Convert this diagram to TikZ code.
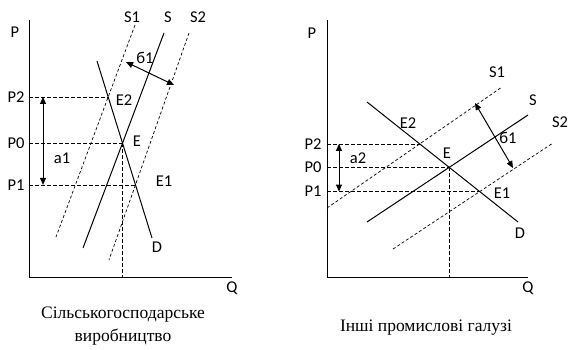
\documentclass[tikz,border=0pt]{standalone}
\usepackage{fontspec}
\setmainfont{Liberation Serif}
\newfontfamily\lblfont{Carlito}
\usetikzlibrary{calc,arrows.meta}

\begin{document}
\begin{tikzpicture}[x=1pt, y=-1pt, >={Triangle[length=7pt,width=6pt]},
  curve/.style={line width=1pt},
  shifted/.style={line width=0.7pt, dash pattern=on 3pt off 2.2pt},
  guide/.style={line width=0.7pt, dash pattern=on 3.5pt off 2.5pt},
  shiftarrow/.style={<->, line width=1pt},
  lbl/.style={font=\lblfont\fontsize{16.5}{18}\selectfont, inner sep=0pt},
  caption/.style={font=\fontsize{17.5}{23}\selectfont, inner sep=0pt, align=center}]
  \useasboundingbox (0,0) rectangle (570,349);

  % Left panel: agriculture
  \coordinate (lO) at (29,277);
  \coordinate (lTop) at (29,20);
  \coordinate (lEnd) at (232,277);
  \draw[curve] (lTop) -- (lO) -- (lEnd);
  \node[lbl] (lP) at (15,32) {P};
  \node[lbl] (lQ) at (232,288) {Q};

  \coordinate (lS1a) at (135,25);  \coordinate (lS1b) at (56,237);
  \coordinate (lSa)  at (164,33);  \coordinate (lSb)  at (83,248);
  \coordinate (lS2a) at (189,33);  \coordinate (lS2b) at (109,260);
  \coordinate (lDa)  at (97,61);   \coordinate (lDb)  at (152,238);
  \draw[shifted] (lS1a) -- (lS1b);
  \draw[curve] (lSa) -- (lSb);
  \draw[shifted] (lS2a) -- (lS2b);
  \draw[curve] (lDa) -- (lDb);

  \coordinate (lE)  at (intersection of lSa--lSb and lDa--lDb);
  \coordinate (lE2) at (intersection of lS1a--lS1b and lDa--lDb);
  \coordinate (lE1) at (intersection of lS2a--lS2b and lDa--lDb);

  % price levels
  \draw[guide] (lE2 -| lO) -- (lE2);
  \draw[guide] (lE -| lO) -- (lE);
  \draw[guide] (lE1 -| lO) -- (lE1);
  \draw[guide] (lE) -- (lE |- lO);
  \node[lbl] (lP2) at ($(lE2 -| lO)+(-13,0)$) {P2};
  \node[lbl] (lP0) at ($(lE -| lO)+(-13,0)$) {P0};
  \node[lbl] (lP1) at ($(lE1 -| lO)+(-13,0)$) {P1};

  \node[lbl] (lS1) at (132,17) {S1};
  \node[lbl] (lS)  at (168,17) {S};
  \node[lbl] (lS2) at (198,17) {S2};
  \node[lbl] (lD)  at (157,247) {D};
  \node[lbl] (lE2t) at (124,100) {E2};
  \node[lbl] (lEt)  at (137,141) {E};
  \node[lbl] (lE1t) at (164,181) {E1};

  \coordinate (lA) at (43,0);
  \draw[shiftarrow] (lE2 -| lA) -- (lE1 -| lA);
  \node[lbl] (la1) at (62,158) {a1};
  \coordinate (lB1a) at (126,62);
  \coordinate (lB1b) at (174,85);
  \draw[shiftarrow] (lB1a) -- (lB1b);
  \node[lbl] (lb1) at (145,58) {б1};

  \node[caption] (lcap) at (123,326) {Сільськогосподарське\\виробництво};

  % Right panel: other industries
  \coordinate (rO) at (327,277);
  \coordinate (rTop) at (327,20);
  \coordinate (rEnd) at (528,277);
  \draw[curve] (rTop) -- (rO) -- (rEnd);
  \node[lbl] (rP) at (312,33) {P};
  \node[lbl] (rQ) at (528,288) {Q};

  \coordinate (rS1a) at (327,208); \coordinate (rS1b) at (502,87);
  \coordinate (rSa)  at (367,222); \coordinate (rSb)  at (528,115);
  \coordinate (rS2a) at (393,249); \coordinate (rS2b) at (553,143);
  \coordinate (rDa)  at (367,102); \coordinate (rDb)  at (518,222);
  \draw[shifted] (rS1a) -- (rS1b);
  \draw[curve] (rSa) -- (rSb);
  \draw[shifted] (rS2a) -- (rS2b);
  \draw[curve] (rDa) -- (rDb);

  \coordinate (rE)  at (intersection of rSa--rSb and rDa--rDb);
  \coordinate (rE2) at (intersection of rS1a--rS1b and rDa--rDb);
  \coordinate (rE1) at (intersection of rS2a--rS2b and rDa--rDb);

  % price levels
  \draw[guide] (rE2 -| rO) -- (rE2);
  \draw[guide] (rE -| rO) -- (rE);
  \draw[guide] (rE1 -| rO) -- (rE1);
  \draw[guide] (rE) -- (rE |- rO);
  \node[lbl] (rP2) at ($(rE2 -| rO)+(-14,0)$) {P2};
  \node[lbl] (rP0) at ($(rE -| rO)+(-14,0)$) {P0};
  \node[lbl] (rP1) at ($(rE1 -| rO)+(-14,0)$) {P1};

  \node[lbl] (rS1) at (497,72) {S1};
  \node[lbl] (rS)  at (533,100) {S};
  \node[lbl] (rS2) at (560,122) {S2};
  \node[lbl] (rD)  at (520,233) {D};
  \node[lbl] (rE2t) at (408,123) {E2};
  \node[lbl] (rEt)  at (447,153) {E};
  \node[lbl] (rE1t) at (502,193) {E1};

  \coordinate (rA) at (339,0);
  \draw[shiftarrow] (rE2 -| rA) -- (rE1 -| rA);
  \node[lbl] (ra2) at (358,158) {a2};
  \coordinate (rB1a) at (475,103);
  \coordinate (rB1b) at (513,168);
  \draw[shiftarrow] (rB1a) -- (rB1b);
  \node[lbl] (rb1) at (508,138) {б1};

  \node[caption] (rcap) at (426,328) {Інші промислові галузі};
\end{tikzpicture}
\end{document}
